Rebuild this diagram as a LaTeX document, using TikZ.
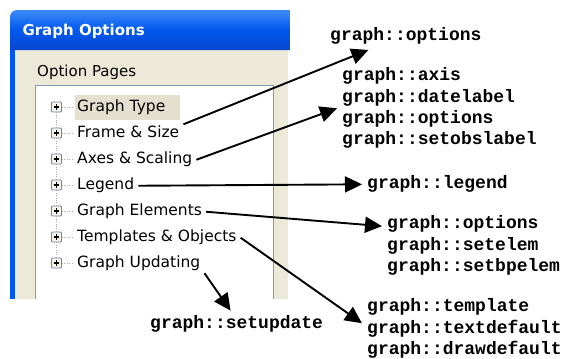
\documentclass[tikz,border=0pt]{standalone}
\usepackage{fontspec}
\setmainfont{DejaVu Sans}
\newfontfamily\codefont{Liberation Mono}
\usetikzlibrary{arrows.meta}
\definecolor{xpbeige}{HTML}{ECE9D8}
\definecolor{xpsel}{HTML}{E4E0D0}
\definecolor{xpframe}{HTML}{7F9DB9}
\definecolor{xpblue}{HTML}{0058EE}
\definecolor{xpbluelt}{HTML}{3D8BF7}
\definecolor{xpbluedk}{HTML}{0A46CF}
\definecolor{xpplus}{HTML}{7086A8}
\definecolor{xptree}{HTML}{A8A8A8}

\begin{document}
\begin{tikzpicture}[x=1pt,y=-1pt,
  item/.style={anchor=base west,inner xsep=4pt,inner ysep=2pt,text height=11pt,
    text depth=3.5pt,font=\fontsize{15.5}{18}\selectfont},
  pbox/.style={draw=xpplus,line width=0.8pt,rounded corners=1pt,inner sep=0pt,minimum size=10pt,
    fill=xpsel!40,
    path picture={\draw[line width=1.4pt,black]
      ([xshift=-2.8pt]path picture bounding box.center) -- ([xshift=2.8pt]path picture bounding box.center)
      ([yshift=-2.8pt]path picture bounding box.center) -- ([yshift=2.8pt]path picture bounding box.center);}},
  call/.style={anchor=north west,inner sep=5pt,align=left,
    font=\codefont\bfseries\fontsize{18}{21.3}\selectfont},
  tree/.style={xptree,dotted},
  flow/.style={-{Triangle[length=17pt,width=16pt]},line width=1.9pt}]
  \useasboundingbox[fill=white] (0,0) rectangle (566,359);
  \fill[xpbeige] (10,50) rectangle (288,299);
  \fill[xpblue] (10,50) rectangle (15,299);
  \shade[top color=xpbluelt,bottom color=xpbluedk,middle color=xpblue]
    (10,50) [rounded corners=7pt] -- (10,10) [sharp corners] -- (290,10) -- (290,50) -- cycle;
  \fill[white] (35,85) rectangle (273,299);
  \draw[xpframe] (35,299) -- (35,85) -- (273,85) -- (273,299);
  \fill[xpsel] (75,95) rectangle (180,120);
  \node[anchor=west,text=white,font=\bfseries\fontsize{15}{18}\selectfont] (t) at (19,31) {Graph Options};
  \node[anchor=west,inner sep=2pt,font=\fontsize{15}{18}\selectfont] (op) at (35,72) {Option Pages};
  \node[item] (i1) at (73,111.5) {Graph Type};
  \node[item] (i2) at (73,137.5) {Frame \& Size};
  \node[item] (i3) at (73,163.5) {Axes \& Scaling};
  \node[item] (i4) at (73,189.5) {Legend};
  \node[item] (i5) at (73,215.5) {Graph Elements};
  \node[item] (i6) at (73,241.5) {Templates \& Objects};
  \node[item] (i7) at (73,267.5) {Graph Updating};
  \node[pbox] (p1) at (56.5,107) {};
  \node[pbox] (p2) at (56.5,133) {};
  \node[pbox] (p3) at (56.5,159) {};
  \node[pbox] (p4) at (56.5,185) {};
  \node[pbox] (p5) at (56.5,211) {};
  \node[pbox] (p6) at (56.5,237) {};
  \node[pbox] (p7) at (56.5,263) {};
  \foreach \a/\b in {p1/p2,p2/p3,p3/p4,p4/p5,p5/p6,p6/p7}
    \draw[tree] (\a.south) -- (\b.north);
  \foreach \a/\b in {p1/i1,p2/i2,p3/i3,p4/i4,p5/i5,p6/i6,p7/i7}
    \draw[tree] (\a.east) -- (\a.east -| \b.west);
  \node[call] (o1) at (325,22.7) {graph::options};
  \node[call] (b) at (337,62.7) {graph::axis\\graph::datelabel\\graph::options\\graph::setobslabel};
  \node[call] (l) at (362,170.7) {graph::legend};
  \node[call] (c) at (382,210.7) {graph::options\\graph::setelem\\graph::setbpelem};
  \node[call] (d) at (362,293.7) {graph::template\\graph::textdefault\\graph::drawdefault};
  \node[call] (e) at (145,310.7) {graph::setupdate};
  \draw[flow] (i2.north east) -- (o1.200);
  \draw[flow] (i3.east) -- (b.west);
  \draw[flow] (i4.east) -- (l.west);
  \draw[flow] (i5.east) -- (c.168);
  \draw[flow] (i6.east) -- (d.177);
  \draw[flow] (i7.south east) -- ([xshift=-6pt]e.north);
\end{tikzpicture}
\end{document}
